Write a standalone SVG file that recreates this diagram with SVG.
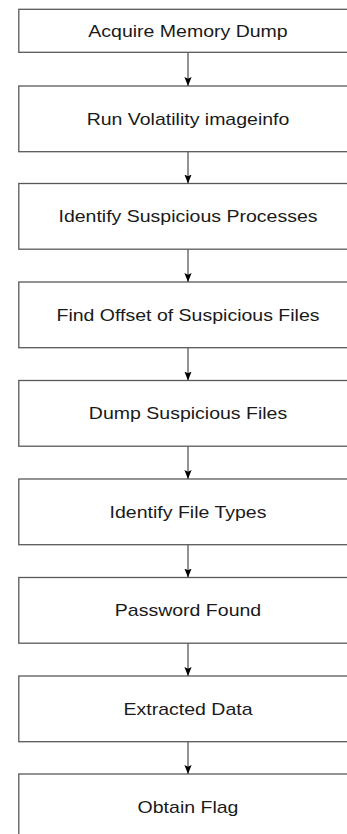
<svg xmlns="http://www.w3.org/2000/svg" width="347" height="834" viewBox="0 0 347 834">
  <style>
    .box { fill: #ffffff; stroke: #595959; stroke-width: 1.3; }
    .label { font-family: "Liberation Sans", Arial, Helvetica, sans-serif; font-size: 16px; fill: #1a1a1a; text-anchor: middle; }
    .edge { stroke: #595959; stroke-width: 1.3; fill: none; marker-end: url(#arrow); }
  </style>
  <defs>
    <marker id="arrow" viewBox="0 0 10 8" refX="10" refY="4" markerWidth="9" markerHeight="8" markerUnits="userSpaceOnUse" orient="auto">
      <path d="M0,0 L10,4 L0,8 L2,4 Z" fill="#000"/>
    </marker>
  </defs>

  <!-- flow steps -->
  <g id="acquire-memory-dump">
    <rect class="box" x="18.8" y="9.3" width="338" height="43"/>
    <text class="label" transform="translate(188,36.5) scale(1.22,1)">Acquire Memory Dump</text>
  </g>
  <g id="run-imageinfo">
    <rect class="box" x="18.8" y="86" width="338" height="65.7"/>
    <text class="label" transform="translate(188,124.5) scale(1.22,1)">Run Volatility imageinfo</text>
  </g>
  <g id="identify-processes">
    <rect class="box" x="18.8" y="183.5" width="338" height="65.7"/>
    <text class="label" transform="translate(188,222) scale(1.22,1)">Identify Suspicious Processes</text>
  </g>
  <g id="find-offset">
    <rect class="box" x="18.8" y="282" width="338" height="65.7"/>
    <text class="label" transform="translate(188,320.5) scale(1.22,1)">Find Offset of Suspicious Files</text>
  </g>
  <g id="dump-files">
    <rect class="box" x="18.8" y="380.5" width="338" height="65.7"/>
    <text class="label" transform="translate(188,419) scale(1.22,1)">Dump Suspicious Files</text>
  </g>
  <g id="identify-file-types">
    <rect class="box" x="18.8" y="479" width="338" height="65.7"/>
    <text class="label" transform="translate(188,517.5) scale(1.22,1)">Identify File Types</text>
  </g>
  <g id="password-found">
    <rect class="box" x="18.8" y="577.5" width="338" height="65.7"/>
    <text class="label" transform="translate(188,616) scale(1.22,1)">Password Found</text>
  </g>
  <g id="extracted-data">
    <rect class="box" x="18.8" y="676" width="338" height="65.7"/>
    <text class="label" transform="translate(188,714.5) scale(1.22,1)">Extracted Data</text>
  </g>
  <g id="obtain-flag">
    <rect class="box" x="18.8" y="774" width="338" height="65.7"/>
    <text class="label" transform="translate(188,812.5) scale(1.22,1)">Obtain Flag</text>
  </g>

  <!-- connectors between consecutive steps -->
  <g id="connectors">
    <line class="edge" x1="188" y1="52.3" x2="188" y2="86"/>
    <line class="edge" x1="188" y1="151.7" x2="188" y2="183.5"/>
    <line class="edge" x1="188" y1="249.2" x2="188" y2="282"/>
    <line class="edge" x1="188" y1="347.7" x2="188" y2="380.5"/>
    <line class="edge" x1="188" y1="446.2" x2="188" y2="479"/>
    <line class="edge" x1="188" y1="544.7" x2="188" y2="577.5"/>
    <line class="edge" x1="188" y1="643.2" x2="188" y2="676"/>
    <line class="edge" x1="188" y1="741.7" x2="188" y2="774"/>
  </g>
</svg>
